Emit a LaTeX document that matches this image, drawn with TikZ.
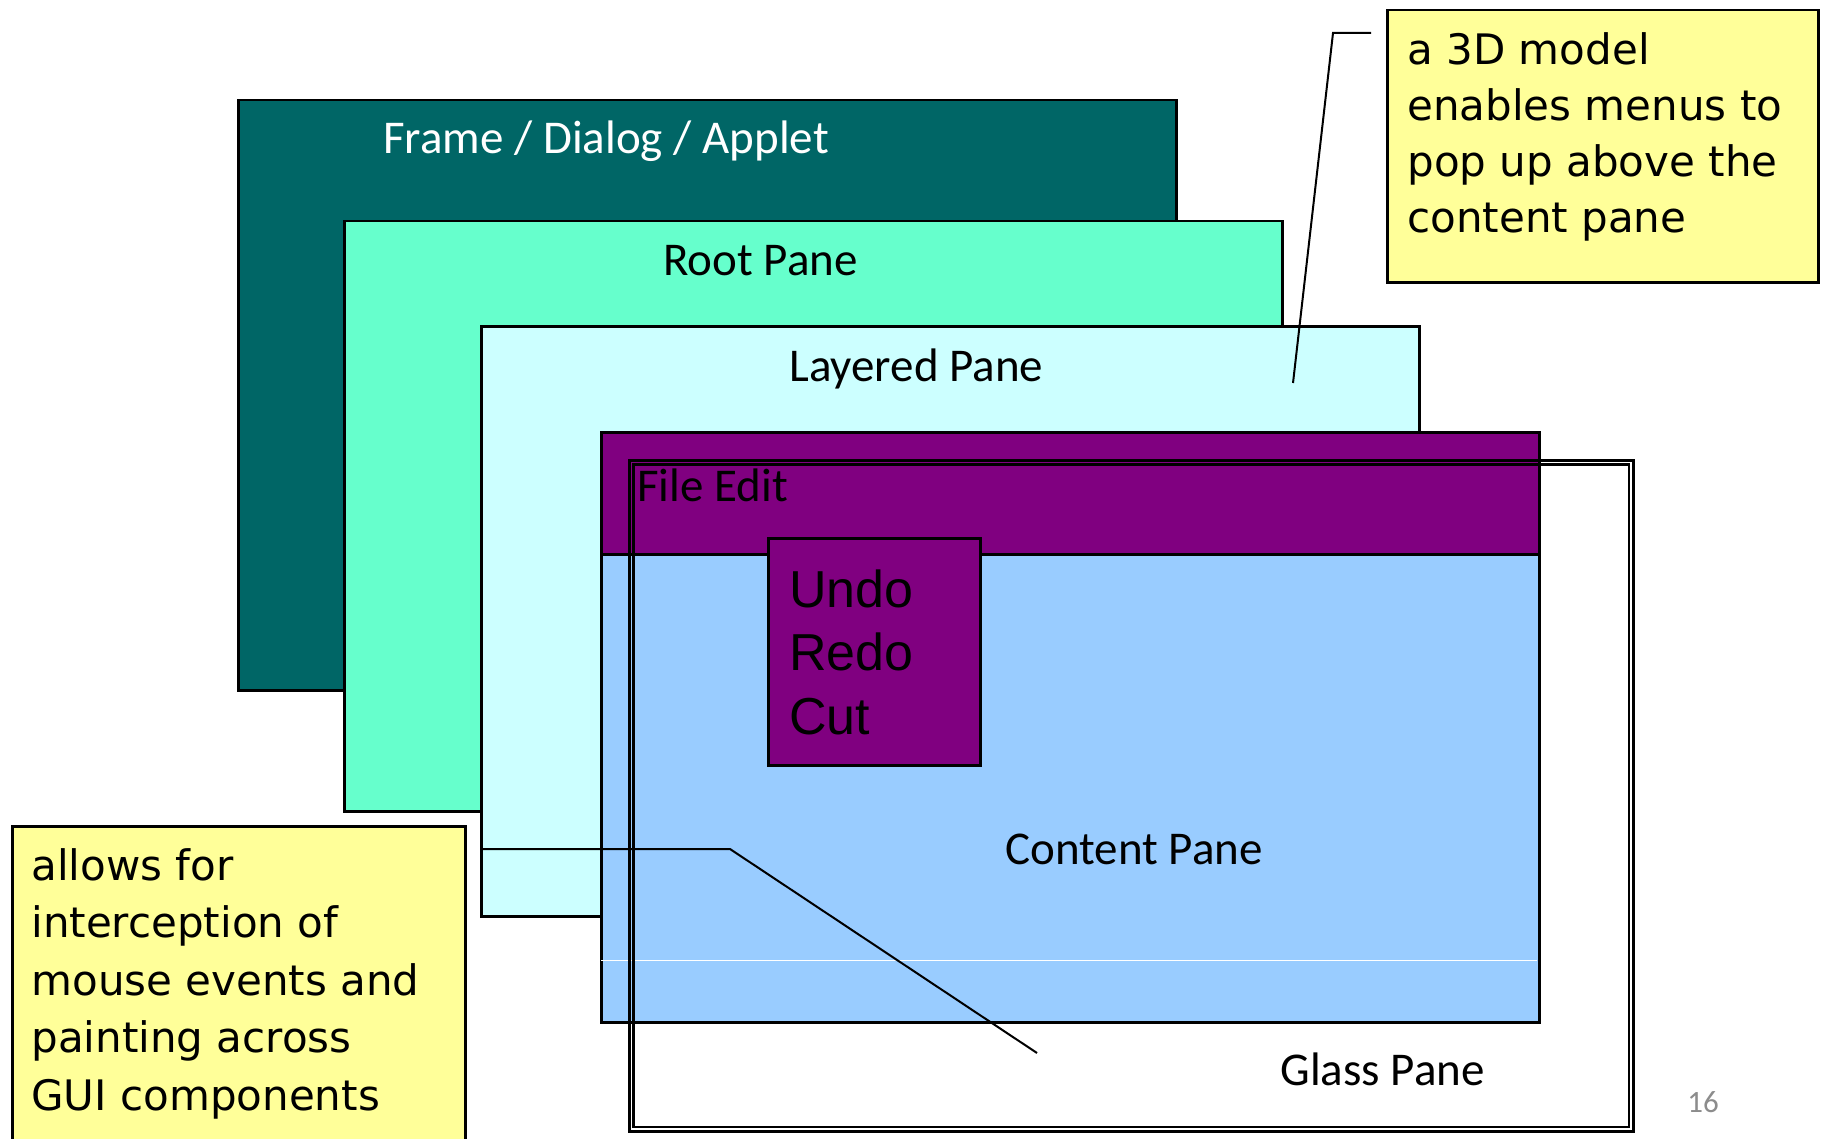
\documentclass[tikz,border=0pt]{standalone}
\usepackage{fontspec}
\newfontfamily\labelfont{Carlito}
\newfontfamily\notefont{DejaVu Sans}
\newfontfamily\menufont{Liberation Sans}
\definecolor{frameteal}{HTML}{006666}
\definecolor{rootgreen}{HTML}{66FFCC}
\definecolor{layercyan}{HTML}{CCFFFF}
\definecolor{menupurple}{HTML}{800080}
\definecolor{contentblue}{HTML}{99CCFF}
\definecolor{noteyellow}{HTML}{FFFF99}
\definecolor{pagegray}{HTML}{8C8C8C}
\begin{document}
\begin{tikzpicture}[x=0.5pt,y=-0.5pt,
  pane/.style={draw=black, line width=1.25pt, rectangle, anchor=north west,
    inner sep=0pt, minimum width=469pt, minimum height=295pt},
  box/.style={draw=black, line width=1.25pt, rectangle, anchor=north west, inner sep=0pt},
  note/.style={box, fill=noteyellow},
  lbl/.style={font=\labelfont\fontsize{23.5pt}{28pt}\selectfont, anchor=base west, inner sep=0pt},
  notetext/.style={anchor=base west, inner sep=0pt, align=left},
  callout/.style={draw=black, line width=1pt}]
\useasboundingbox (0,0) rectangle (1824,1139);
\clip (0,0) rectangle (1824,1139);
\fill[white] (0,0) rectangle (1824,1139);

% stacked panes, back to front
\node[pane, fill=frameteal] (frame) at (237,99) {};
\node[lbl, text=white] (frametitle) at (383,154) {Frame / Dialog / Applet};
\node[pane, fill=rootgreen] (root) at (343,220) {};
\node[lbl] (roottitle) at (663,276) {Root Pane};
\node[pane, fill=layercyan] (layered) at (480,325) {};
\node[lbl] (layeredtitle) at (789,381) {Layered Pane};

% content pane with its menu bar
\node[pane, fill=contentblue] (content) at (600,431) {};
\draw[white, line width=0.5pt] (601,960) -- (1537,960);
\node[box, fill=menupurple, minimum width=469pt, minimum height=61pt] (menubar) at (600,431) {};
\node[lbl] (menutitle) at (637,501) {File Edit};
\node[lbl] (contenttitle) at (1005,864) {Content Pane};

% glass pane: two outlines, transparent inside
\node[box, minimum width=502pt, minimum height=335.5pt] (glass) at (628,459) {};
\draw[line width=1.25pt] ([shift={(5.5,5.5)}]glass.north west) rectangle ([shift={(-5.5,-5.5)}]glass.south east);
\node[lbl] (glasstitle) at (1280,1085) {Glass Pane};

% popup menu (anchored on the baseline of its last line)
\node[box, fill=menupurple, minimum width=106pt, minimum height=113.5pt] (popup) at (767,537) {};
\node[anchor=base west, inner sep=0pt, align=left,
  font=\menufont\fontsize{26pt}{31.75pt}\selectfont] (popuptext) at (789,734) {Undo\\Redo\\Cut};

% notes (texts anchored on the baseline of their last line)
\node[note, minimum width=215.5pt, minimum height=136pt] (note3d) at (1386,9) {};
\node[notetext, font=\notefont\fontsize{21pt}{28pt}\selectfont] (note3dtext) at (1407,233)
  {a 3D model\\enables menus to\\pop up above the\\content pane};
\node[note, minimum width=226.5pt, minimum height=165pt] (noteglass) at (11,825) {};
\node[notetext, font=\notefont\fontsize{21pt}{28.75pt}\selectfont] (noteglasstext) at (31,1110)
  {allows for\\interception of\\mouse events and\\painting across\\GUI components};

% callout leaders
\coordinate (startA) at (1371,33);
\coordinate (bendA) at (1333,33);
\coordinate (tipA) at (1293,383);
\draw[callout] (startA) -- (bendA) -- (tipA);
\coordinate (startB) at (480,849);
\coordinate (bendB) at (730,849);
\coordinate (tipB) at (1037,1053);
\draw[callout] (startB) -- (bendB) -- (tipB);

% slide number
\node[anchor=base west, inner sep=0pt, text=pagegray,
  font=\labelfont\fontsize{15.5pt}{18pt}\selectfont] (pagenum) at (1687,1112) {16};
\end{tikzpicture}
\end{document}
